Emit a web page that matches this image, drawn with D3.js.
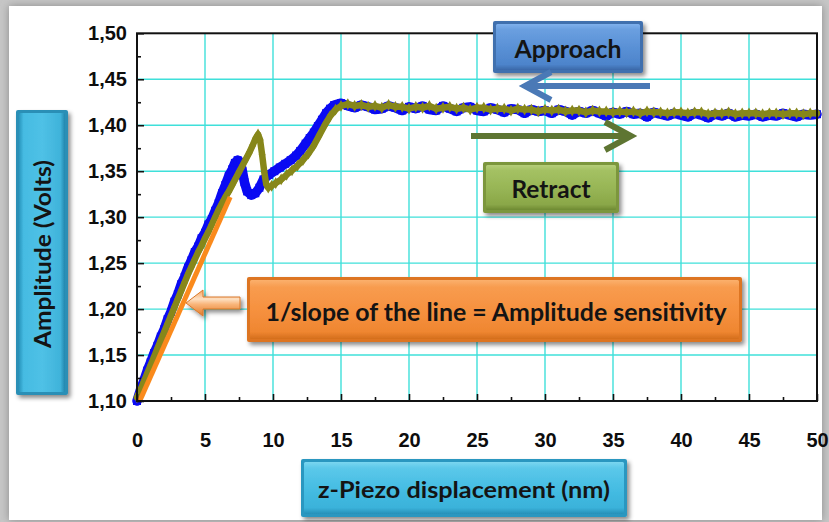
<!DOCTYPE html>
<html>
<head>
<meta charset="utf-8">
<script src="https://cdn.jsdelivr.net/npm/d3@7"></script>
<style>
  body { margin: 0; background: #fff; }
  svg { display: block; }
</style>
</head>
<body>
<svg id="chart" width="829" height="522"></svg>
<script>
// ---- axis ticks ----
const xTicks = [0, 5, 10, 15, 20, 25, 30, 35, 40, 45, 50];
const xMinorTicks = [2.5, 7.5, 12.5, 17.5, 22.5, 27.5, 32.5, 37.5, 42.5, 47.5];
const yTicks = [1.10, 1.15, 1.20, 1.25, 1.30, 1.35, 1.40, 1.45, 1.50];
const yMinorTicks = [1.125, 1.175, 1.225, 1.275, 1.325, 1.375, 1.425, 1.475];

// ---- approach curve (z-piezo nm, amplitude V) ----
const approach = [
  [0, 1.100], [0.25, 1.112], [0.5, 1.122], [0.75, 1.133], [1.0, 1.142], [1.25, 1.152],
  [1.5, 1.160], [1.75, 1.170], [2.0, 1.178], [2.25, 1.189], [2.5, 1.197], [2.75, 1.208],
  [3.0, 1.216], [3.25, 1.227], [3.5, 1.235], [3.75, 1.245], [4.0, 1.253], [4.25, 1.262],
  [4.5, 1.268], [4.75, 1.277], [5.0, 1.283], [5.25, 1.292], [5.5, 1.298], [5.75, 1.307],
  [6.0, 1.315], [6.25, 1.326], [6.5, 1.335], [6.75, 1.345], [7.0, 1.352], [7.2, 1.359],
  [7.4, 1.362], [7.6, 1.360], [7.75, 1.350], [7.9, 1.338], [8.1, 1.328], [8.4, 1.324],
  [8.7, 1.326], [9.0, 1.332], [9.3, 1.341], [9.7, 1.346], [10.1, 1.350], [10.5, 1.354],
  [10.9, 1.358], [11.3, 1.362], [11.7, 1.367], [12.0, 1.372], [12.4, 1.380], [12.7, 1.386],
  [13.0, 1.392], [13.3, 1.399], [13.6, 1.406], [13.9, 1.413], [14.2, 1.418], [14.5, 1.422],
  [15.0, 1.424],
  [15.5, 1.421], [16.0, 1.419], [16.5, 1.422], [17.0, 1.420], [17.5, 1.417], [18.0, 1.418],
  [18.5, 1.421], [19.0, 1.419], [19.5, 1.416], [20.0, 1.420], [20.5, 1.418], [21.0, 1.421],
  [21.5, 1.417], [22.0, 1.416], [22.5, 1.421], [23.0, 1.418], [23.5, 1.415], [24.0, 1.419],
  [24.5, 1.420], [25.0, 1.416], [25.5, 1.415], [26.0, 1.419], [26.5, 1.417], [27.0, 1.414],
  [27.5, 1.418], [28.0, 1.417], [28.5, 1.413], [29.0, 1.417], [29.5, 1.415], [30.0, 1.416],
  [30.5, 1.413], [31.0, 1.417], [31.5, 1.415], [32.0, 1.411], [32.5, 1.415], [33.0, 1.413],
  [33.5, 1.416], [34.0, 1.413], [34.5, 1.410], [35.0, 1.414], [35.5, 1.412], [36.0, 1.415],
  [36.5, 1.412], [37.0, 1.413], [37.5, 1.409], [38.0, 1.414], [38.5, 1.412], [39.0, 1.410],
  [39.5, 1.413], [40.0, 1.411], [40.5, 1.409], [41.0, 1.413], [41.5, 1.411], [42.0, 1.408],
  [42.5, 1.412], [43.0, 1.410], [43.5, 1.413], [44.0, 1.409], [44.5, 1.411], [45.0, 1.410],
  [45.5, 1.412], [46.0, 1.409], [46.5, 1.411], [47.0, 1.410], [47.5, 1.413], [48.0, 1.411],
  [48.5, 1.409], [49.0, 1.412], [49.5, 1.411], [50.0, 1.412]
];

// ---- retract curve ----
const retract = [
  [0, 1.104], [0.25, 1.112], [0.5, 1.121], [0.75, 1.130], [1.0, 1.139], [1.25, 1.148],
  [1.5, 1.157], [1.75, 1.166], [2.0, 1.175], [2.25, 1.184], [2.5, 1.193], [2.75, 1.202],
  [3.0, 1.211], [3.25, 1.220], [3.5, 1.229], [3.75, 1.238], [4.0, 1.246], [4.25, 1.254],
  [4.5, 1.262], [4.75, 1.269], [5.0, 1.277], [5.25, 1.284], [5.5, 1.292], [5.75, 1.300],
  [6.0, 1.308], [6.25, 1.315], [6.5, 1.322], [6.75, 1.328], [7.0, 1.335], [7.25, 1.342],
  [7.5, 1.349], [7.75, 1.356], [8.0, 1.363], [8.25, 1.370], [8.5, 1.378], [8.7, 1.385],
  [8.9, 1.390], [9.05, 1.384], [9.2, 1.368], [9.35, 1.350], [9.5, 1.336], [9.65, 1.332],
  [9.9, 1.334], [10.2, 1.337], [10.6, 1.341], [11.0, 1.346], [11.4, 1.351], [11.8, 1.356],
  [12.2, 1.362], [12.6, 1.369], [13.0, 1.378], [13.4, 1.389], [13.8, 1.400], [14.2, 1.410],
  [14.6, 1.417], [15.0, 1.421], [15.5, 1.423],
  [16.0, 1.421], [16.5, 1.422], [17.0, 1.420], [17.5, 1.421], [18.0, 1.419], [18.5, 1.422],
  [19.0, 1.420], [19.5, 1.420], [20.0, 1.418], [20.5, 1.420], [21.0, 1.419], [21.5, 1.421],
  [22.0, 1.418], [22.5, 1.419], [23.0, 1.420], [23.5, 1.418], [24.0, 1.419], [24.5, 1.417],
  [25.0, 1.419], [25.5, 1.419], [26.0, 1.417], [26.5, 1.418], [27.0, 1.418], [27.5, 1.416],
  [28.0, 1.418], [28.5, 1.417], [29.0, 1.417], [29.5, 1.415], [30.0, 1.417], [30.5, 1.416],
  [31.0, 1.417], [31.5, 1.415], [32.0, 1.416], [32.5, 1.416], [33.0, 1.414], [33.5, 1.416],
  [34.0, 1.415], [34.5, 1.415], [35.0, 1.414], [35.5, 1.415], [36.0, 1.414], [36.5, 1.415],
  [37.0, 1.413], [37.5, 1.415], [38.0, 1.414], [38.5, 1.414], [39.0, 1.413], [39.5, 1.414],
  [40.0, 1.414], [40.5, 1.413], [41.0, 1.414], [41.5, 1.414], [42.0, 1.412], [42.5, 1.413],
  [43.0, 1.413], [43.5, 1.414], [44.0, 1.412], [44.5, 1.413], [45.0, 1.413], [45.5, 1.413],
  [46.0, 1.412], [46.5, 1.413], [47.0, 1.413], [47.5, 1.412], [48.0, 1.413], [48.5, 1.413],
  [49.0, 1.412], [49.5, 1.413], [50.0, 1.413]
];

// ---- linear fit of the contact region ----
const fitLine = [[0.2, 1.100], [6.85, 1.322]];

// ---- text ----
const xTitle = "z-Piezo displacement (nm)";
const yTitle = "Amplitude (Volts)";
const approachLabel = "Approach";
const retractLabel = "Retract";
const slopeNote = "1/slope of the line = Amplitude sensitivity";

const svg = d3.select("#chart");
const defs = svg.append("defs");

const x = d3.scaleLinear().domain([0, 50]).range([137, 817]);
const y = d3.scaleLinear().domain([1.10, 1.50]).range([401, 33.3]);

// ---------- filters & gradients ----------
const shadow = defs.append("filter").attr("id", "boxShadow")
  .attr("x", "-10%").attr("y", "-10%").attr("width", "130%").attr("height", "140%");
shadow.append("feDropShadow").attr("dx", 2.5).attr("dy", 3).attr("stdDeviation", 2)
  .attr("flood-color", "#000").attr("flood-opacity", 0.45);

const cardShadow = defs.append("filter").attr("id", "cardShadow")
  .attr("x", "-5%").attr("y", "-5%").attr("width", "110%").attr("height", "110%");
cardShadow.append("feGaussianBlur").attr("stdDeviation", 4);

function vGrad(id, stops) {
  const g = defs.append("linearGradient").attr("id", id)
    .attr("x1", 0).attr("y1", 0).attr("x2", 0).attr("y2", 1);
  stops.forEach(([o, c]) => g.append("stop").attr("offset", o).attr("stop-color", c));
}
function hGrad(id, stops) {
  const g = defs.append("linearGradient").attr("id", id)
    .attr("x1", 0).attr("y1", 0).attr("x2", 1).attr("y2", 0);
  stops.forEach(([o, c]) => g.append("stop").attr("offset", o).attr("stop-color", c));
}

vGrad("gApproach", [[0, "#7fb0ec"], [0.12, "#6a9fe0"], [0.5, "#5a91d6"], [0.88, "#4d84cb"], [1, "#3a68a8"]]);
vGrad("gRetract", [[0, "#b5cd79"], [0.12, "#a4c163"], [0.5, "#98b656"], [0.88, "#8aa748"], [1, "#6e8a32"]]);
vGrad("gOrange", [[0, "#fbb06c"], [0.12, "#f89c4f"], [0.5, "#f6913f"], [0.88, "#ef8631"], [1, "#d46e1c"]]);
vGrad("gCyan", [[0, "#7ad6f0"], [0.12, "#5bc8ea"], [0.5, "#46bde3"], [0.88, "#3ab2da"], [1, "#2790b8"]]);
hGrad("gCyanV", [[0, "#2a95bd"], [0.1, "#45bbe2"], [0.5, "#4fc1e6"], [0.9, "#3fb3da"], [1, "#2486ad"]]);
vGrad("gArrow", [[0, "#f6a35e"], [0.35, "#fde0c2"], [0.55, "#f9b57a"], [1, "#e07a28"]]);

// ---------- page card ----------
svg.append("rect").attr("width", 829).attr("height", 522).attr("fill", "#c6c6c6");
svg.append("rect").attr("x", 9).attr("y", 6).attr("width", 813).attr("height", 514)
  .attr("fill", "#8a8a8a").attr("filter", "url(#cardShadow)");
svg.append("rect").attr("x", 9).attr("y", 6).attr("width", 813).attr("height", 514)
  .attr("fill", "#ffffff");

// ---------- grid ----------
const grid = svg.append("g").attr("stroke", "#3fe0da").attr("stroke-width", 1.4);
grid.selectAll(".gx").data(xTicks.slice(1, -1)).join("line")
  .attr("x1", d => x(d)).attr("x2", d => x(d)).attr("y1", y(1.10)).attr("y2", y(1.50));
grid.selectAll(".gy").data(yTicks.slice(1, -1)).join("line")
  .attr("y1", d => y(d)).attr("y2", d => y(d)).attr("x1", x(0)).attr("x2", x(50));

// ---------- series ----------
const line = d3.line().x(d => x(d[0])).y(d => y(d[1]));

svg.append("path").datum(approach).attr("d", line)
  .attr("fill", "none").attr("stroke", "#0a0af2").attr("stroke-width", 9.5)
  .attr("stroke-linejoin", "round").attr("stroke-linecap", "round");
svg.append("g").selectAll("rect").data(approach).join("rect")
  .attr("x", d => x(d[0]) - 4).attr("y", d => y(d[1]) - 4)
  .attr("width", 8).attr("height", 8).attr("fill", "#0a0af2");

svg.append("path").datum(retract).attr("d", line)
  .attr("fill", "none").attr("stroke", "#87871a").attr("stroke-width", 6.5)
  .attr("stroke-linejoin", "round").attr("stroke-linecap", "round");
const diamond = d3.symbol().type(d3.symbolDiamond).size(40);
svg.append("g").selectAll("path").data(retract).join("path")
  .attr("d", diamond)
  .attr("transform", d => `translate(${x(d[0])},${y(d[1])})`)
  .attr("fill", "#87871a");

svg.append("path").datum(fitLine).attr("d", line)
  .attr("fill", "none").attr("stroke", "#fa8a1c").attr("stroke-width", 5);

// ---------- axes ----------
const fmt = d3.formatLocale({ decimal: ",", thousands: ".", grouping: [3], currency: ["", ""] }).format(".2f");

const axisFont = g => g.selectAll("text")
  .attr("font-family", "'Liberation Sans', Arial, sans-serif")
  .attr("font-weight", "bold").attr("font-size", 20).attr("fill", "#0d0d0d");

svg.append("g").attr("transform", `translate(${x(0)},0)`)
  .call(d3.axisLeft(y).tickValues(yTicks).tickSize(-7).tickPadding(10).tickFormat(fmt))
  .call(axisFont);
svg.append("g").attr("transform", `translate(${x(0)},0)`)
  .call(d3.axisLeft(y).tickValues(yMinorTicks).tickSize(-4).tickFormat(""));

svg.append("g").attr("transform", `translate(0,${y(1.10)})`)
  .call(d3.axisBottom(x).tickValues(xTicks).tickSize(-7).tickPadding(32).tickFormat(d3.format("d")))
  .call(axisFont);
svg.append("g").attr("transform", `translate(0,${y(1.10)})`)
  .call(d3.axisBottom(x).tickValues(xMinorTicks).tickSize(-4).tickFormat(""));

svg.selectAll(".domain").remove();
svg.selectAll(".tick line").attr("stroke", "#111").attr("stroke-width", 1.6);

// frame
svg.append("rect").attr("x", x(0)).attr("y", y(1.50))
  .attr("width", x(50) - x(0)).attr("height", y(1.10) - y(1.50))
  .attr("fill", "none").attr("stroke", "#111").attr("stroke-width", 2);

// ---------- bevel boxes ----------
const labelFont = "Lato, 'Open Sans', sans-serif";
function bevelBox(bx, by, bw, bh, fill, edge) {
  const g = svg.append("g").attr("filter", "url(#boxShadow)");
  g.append("rect").attr("x", bx).attr("y", by).attr("width", bw).attr("height", bh)
    .attr("rx", 2).attr("fill", edge);
  g.append("rect").attr("x", bx + 3).attr("y", by + 3).attr("width", bw - 6).attr("height", bh - 6)
    .attr("rx", 1.5).attr("fill", `url(#${fill})`);
  return g;
}
function boxText(tx, ty, str, size, len, rotate) {
  const t = svg.append("text")
    .attr("x", tx).attr("y", ty)
    .attr("text-anchor", "middle").attr("dominant-baseline", "central")
    .attr("font-family", labelFont).attr("font-weight", "bold")
    .attr("font-size", size).attr("fill", "#141414")
    .attr("textLength", len).attr("lengthAdjust", "spacingAndGlyphs")
    .text(str);
  if (rotate) t.attr("transform", `rotate(-90,${tx},${ty})`);
  return t;
}

// y title
bevelBox(16, 110, 52, 285, "gCyanV", "#2a8fb6");
boxText(42, 254, yTitle, 22, 188, true);

// x title
bevelBox(301, 459, 326, 58, "gCyan", "#2b97c0");
boxText(464, 489, xTitle, 23, 292);

// Approach
bevelBox(493, 21, 150, 52, "gApproach", "#3f6fae");
boxText(568, 48, approachLabel, 24, 107);

// Retract
bevelBox(483, 162, 136, 51, "gRetract", "#7b963c");
boxText(551, 188, retractLabel, 24, 79);

// slope note
bevelBox(247, 277, 495, 65, "gOrange", "#dd7520");
boxText(496, 311, slopeNote, 24, 461);

// ---------- direction arrows ----------
// approach: right to left
svg.append("path")
  .attr("d", "M650,86 L526,86 M551,72 L525,86 L551,100")
  .attr("fill", "none").attr("stroke", "#4a79b6").attr("stroke-width", 6)
  .attr("stroke-linejoin", "miter");
// retract: left to right
svg.append("path")
  .attr("d", "M471,136 L629,136 M605,122 L631,136 L605,150")
  .attr("fill", "none").attr("stroke", "#5e7532").attr("stroke-width", 6)
  .attr("stroke-linejoin", "miter");

// slope pointer (block arrow)
svg.append("path")
  .attr("d", "M186,303 L203,290 L203,297 L240,297 L240,309 L203,309 L203,316 Z")
  .attr("fill", "url(#gArrow)").attr("stroke", "#d9782a").attr("stroke-width", 1)
  .attr("filter", "url(#boxShadow)");
</script>
</body>
</html>
